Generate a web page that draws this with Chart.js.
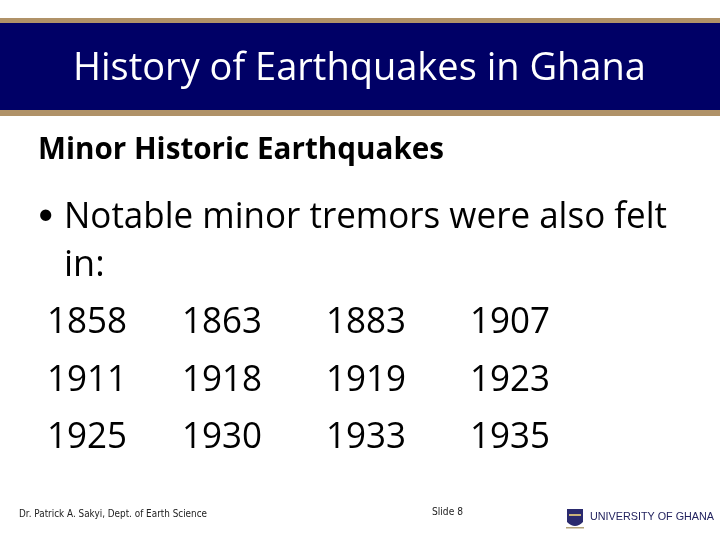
<!DOCTYPE html>
<html><head><meta charset="utf-8">
<style>html,body{margin:0;padding:0;background:#fff}#w{width:720px;height:540px;position:relative}</style>
<script src="https://cdn.jsdelivr.net/npm/chart.js@4"></script>
</head><body><div id="w"><canvas id="c" width="720" height="540"></canvas></div>
<script>
const slideTitle = "History of Earthquakes in Ghana";
const subTitle = "Minor Historic Earthquakes";
const bulletLines = ["Notable minor tremors were also felt", "in:"];
const footerLeft = "Dr. Patrick A. Sakyi, Dept. of Earth Science";
const footerMid = "Slide 8";
const logoText = "UNIVERSITY OF GHANA";
const columns = [0, 1, 2, 3];
const rowA = [1858, 1863, 1883, 1907];
const rowB = [1911, 1918, 1919, 1923];
const rowC = [1925, 1930, 1933, 1935];
const rows = [rowA, rowB, rowC];

const FONT = '"Open Sans", Lato, sans-serif';
function put(ctx, s, x, y, font, color, w) {
  ctx.font = font; ctx.fillStyle = color; ctx.textAlign = "left"; ctx.textBaseline = "alphabetic";
  if (w) ctx.fillText(s, x, y, w); else ctx.fillText(s, x, y);
}
const slide = {
  id: "slide",
  beforeDraw(chart) {
    const ctx = chart.ctx;
    ctx.save();
    ctx.fillStyle = "#fff"; ctx.fillRect(0, 0, 720, 540);
    ctx.fillStyle = "#b09268"; ctx.fillRect(0, 18, 720, 98);
    ctx.fillStyle = "#000066"; ctx.fillRect(0, 23, 720, 87);
    put(ctx, slideTitle, 73, 80, "400 38px " + FONT, "#fff", 573);
    put(ctx, subTitle, 38, 159, "700 30px " + FONT, "#000", 406);
    put(ctx, "•", 37, 224, "400 30px Lato", "#000");
    put(ctx, bulletLines[0], 64, 228, "400 36px " + FONT, "#000", 603);
    put(ctx, bulletLines[1], 64, 276, "400 36px " + FONT, "#000", 45);
    put(ctx, footerLeft, 19, 517, '400 10px "DejaVu Sans"', "#222", 188);
    put(ctx, footerMid, 432, 515, '400 10px "DejaVu Sans"', "#222", 31);
    // crest
    ctx.fillStyle = "#2a2a6e";
    ctx.beginPath();
    ctx.moveTo(567, 509); ctx.lineTo(583, 509); ctx.lineTo(583, 522);
    ctx.quadraticCurveTo(575, 530, 567, 522); ctx.closePath(); ctx.fill();
    ctx.fillStyle = "#c9b27a"; ctx.fillRect(569, 514, 12, 2);
    ctx.fillStyle = "#b3a37a"; ctx.fillRect(566, 527, 18, 1.5);
    put(ctx, logoText, 590, 520, '400 11px "Liberation Sans"', "#23235f", 124);
    ctx.restore();
  },
  afterDatasetsDraw(chart) {
    const ctx = chart.ctx;
    ctx.save();
    ctx.font = "400 36px " + FONT; ctx.fillStyle = "#000";
    ctx.textAlign = "center"; ctx.textBaseline = "middle";
    chart.data.datasets.forEach((ds, r) => {
      chart.getDatasetMeta(r).data.forEach((pt, i) => {
        const nudge = i === 0 ? 9 : 0;
        ctx.fillText(String(rows[r][i]), pt.x + nudge, pt.y + 3, 80);
      });
    });
    ctx.restore();
  }
};
new Chart(document.getElementById("c"), {
  type: "scatter",
  data: { datasets: rows.map((row, r) => ({
    label: "row " + (r + 1),
    data: row.map((year, i) => ({ x: columns[i], y: r })),
    pointRadius: 0
  })) },
  options: {
    responsive: false, animation: false,
    layout: { padding: { left: 78, right: 210, top: 320, bottom: 105 } },
    plugins: { legend: { display: false }, tooltip: { enabled: false }, title: { display: false } },
    scales: {
      x: { display: false, min: 0, max: 3 },
      y: { display: false, min: 0, max: 2, reverse: true }
    }
  },
  plugins: [slide]
});
</script></body></html>
